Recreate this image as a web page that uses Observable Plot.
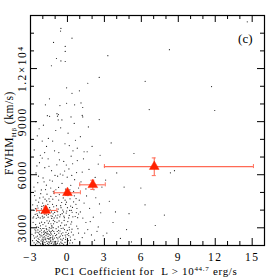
<!DOCTYPE html>
<html><head><meta charset="utf-8">
<script src="https://cdn.jsdelivr.net/npm/d3@7"></script>
<script src="https://cdn.jsdelivr.net/npm/@observablehq/plot@0.6"></script>
<style>
body{margin:0;background:#fff}
#chart svg{font-family:"Liberation Serif","DejaVu Serif",serif;overflow:visible}
</style>
</head><body><div id="chart"></div>
<script>
// individual quasars: [PC1 coefficient, FWHM_Hbeta km/s]
const quasars = [
[-2.71,2150],[-2.55,2480],[-2.42,2230],[-2.33,2710],[-2.18,2090],[-2.05,2360],[-1.94,2620],[-1.83,2180],[-1.72,2950],[-1.61,2410],[-1.52,2070],[-1.44,2790],[-1.36,2300],[-1.27,3120],[-1.18,2540],[-1.09,2210],[-1.03,3350],[-2.88,2630],[-2.64,2890],[-2.49,3050],[-2.38,2410],[-2.26,3260],[-2.12,2870],[-1.99,3180],[-1.88,2490],[-1.77,2330],[-1.66,3400],[-1.58,2670],[-1.47,3010],[-1.39,2580],[-1.31,2120],[-1.22,2860],[-1.13,3230],[-1.05,2690],[-2.79,3310],[-2.59,2060],[-2.46,2750],[-2.29,2160],[-2.16,2590],[-2.02,2120],[-1.91,2960],[-1.8,2740],[-1.69,2240],[-1.55,3260],[-1.42,2420],[-1.33,2970],[-1.2,2380],[-1.11,2800],[-2.68,2420],[-2.52,2290],[-2.35,3030],[-2.22,2480],[-2.09,2720],[-1.97,2290],[-1.85,3290],[-1.74,2560],[-1.63,2110],[-1.5,2870],[-1.4,2230],[-1.29,2650],[-1.16,3010],[-1.07,2420],[-2.61,2710],[-2.44,2530],[-2.31,2340],[-2.19,3110],[-2.07,2540],[-1.96,2050],[-1.86,2660],[-1.75,3100],[-1.64,2780],[-1.54,2380],[-1.45,2150],[-1.34,3230],[-1.24,2460],[-1.14,2080],[-2.83,2270],[-2.58,3180],[-2.4,2880],[-2.27,2620],[-2.14,2260],[-2.0,2960],[-1.9,2360],[-1.79,2040],[-1.68,2900],[-1.57,2520],[-1.46,3380],[-1.37,2710],[-1.25,2200],[-1.15,3420],[-2.75,2550],[-2.48,2140],[-2.36,2200],[-2.24,2800],[-2.1,3320],[-1.98,2450],[-1.87,2830],[-1.76,2420],[-1.65,2650],[-1.56,2200],[-1.48,2620],[-1.38,2440],[-1.26,3050],[-1.17,2330],[-2.57,2830],[-2.2,2960],[-1.93,2770],[-1.71,2700],[-1.49,2360],[-1.32,2790],
[-0.95,2240],[-0.88,2610],[-0.81,2130],[-0.74,3050],[-0.67,2470],[-0.6,2820],[-0.53,2190],[-0.46,3280],[-0.39,2560],[-0.31,2070],[-0.24,2900],[-0.16,2350],[-0.09,3170],[-0.02,2620],[0.06,2280],[0.14,3030],[0.23,2480],[0.32,2760],[0.41,2150],[-0.92,2950],[-0.85,3310],[-0.78,2380],[-0.7,2700],[-0.63,2090],[-0.56,3120],[-0.49,2660],[-0.42,2300],[-0.35,2980],[-0.27,3420],[-0.2,2180],[-0.12,2750],[-0.05,2040],[0.03,3350],[0.11,2560],[0.19,2140],[0.28,3210],[0.37,2920],[0.47,2600],[-0.97,2560],[-0.9,2080],[-0.83,2790],[-0.76,2250],[-0.68,3390],[-0.58,2530],[-0.51,2960],[-0.44,2120],[-0.33,2410],[-0.22,3150],[-0.14,2480],[-0.01,2850],[0.09,2690],[0.25,2300],[-0.87,2450],[-0.72,2860],[-0.54,2360],[-0.37,2720],[-0.18,2590],[0.0,2200],[0.16,2890],[0.34,3330],
[-2.74,3620],[-2.6,4080],[-2.47,3790],[-2.34,4450],[-2.21,3560],[-2.08,4210],[-1.95,3880],[-1.82,4620],[-1.7,3720],[-1.59,4330],[-1.47,3980],[-1.35,4780],[-1.23,3650],[-1.12,4190],[-1.04,3870],[-2.82,4300],[-2.66,4820],[-2.53,3540],[-2.39,4120],[-2.25,4690],[-2.13,3810],[-2.01,4400],[-1.89,3600],[-1.78,4060],[-1.66,4900],[-1.55,3760],[-1.43,4480],[-1.3,3900],[-1.19,4620],[-1.08,3560],[-2.7,3990],[-2.56,4570],[-2.43,3700],[-2.3,3950],[-2.17,4930],[-2.04,3660],[-1.92,4250],[-1.8,3950],[-1.69,4520],[-1.57,3600],[-1.45,4140],[-1.33,3680],[-1.21,4330],[-1.1,4960],[-2.62,3760],[-2.45,4240],[-2.28,3850],[-2.11,4070],[-1.97,4740],[-1.84,3770],[-1.73,4180],[-1.61,3870],[-1.5,4640],[-1.4,4020],[-1.28,3530],[-1.16,3790],[-2.8,3560],[-2.37,3600],[-1.99,3550],[-1.62,4040],
[-0.96,3680],[-0.89,4250],[-0.8,3910],[-0.71,4570],[-0.62,3620],[-0.52,4140],[-0.43,3800],[-0.34,4690],[-0.25,3570],[-0.15,4320],[-0.06,3950],[0.04,4820],[0.15,3700],[0.26,4230],[0.38,3880],[0.5,4470],[0.63,3640],[0.77,4090],[0.9,3780],[-0.93,4770],[-0.84,3560],[-0.75,4060],[-0.66,4880],[-0.57,3740],[-0.47,4430],[-0.38,4000],[-0.29,3660],[-0.19,4560],[-0.1,3830],[0.0,4140],[0.1,3560],[0.21,4640],[0.31,3980],[0.44,3620],[0.56,4810],[0.69,4330],[0.83,3570],[0.96,4560],[-0.78,3720],[-0.55,4250],[-0.32,3900],[-0.08,4450],[0.18,3980],[0.41,4150],[0.72,3860],
[-2.72,5300],[-2.55,6100],[-2.41,5550],[-2.27,6680],[-2.12,5140],[-1.98,5820],[-1.84,6400],[-1.71,5410],[-1.57,6900],[-1.43,5700],[-1.29,6230],[-1.15,5050],[-1.01,5960],[-0.86,6560],[-0.72,5280],[-0.58,6040],[-0.44,5510],[-0.3,6750],[-0.16,5190],[-0.02,5860],[0.12,6330],[0.27,5400],[0.42,6620],[0.58,5720],[0.74,6120],[0.9,5250],[-2.63,5080],[-2.35,5920],[-2.05,6940],[-1.78,5160],[-1.5,6480],[-1.22,5640],[-0.94,5150],[-0.65,6840],[-0.37,5980],[-0.09,6550],[0.2,5150],[0.5,5060],[0.8,6800],[-2.48,6500],[-1.9,5600],[-1.36,5250],[-0.8,5920],[-0.23,6210],[0.35,5960],
[-2.7,7400],[-2.45,8200],[-2.2,7100],[-1.95,8800],[-1.7,7600],[-1.45,9300],[-1.2,7900],[-0.95,8500],[-0.7,7250],[-0.45,9100],[-0.2,7750],[0.05,8350],[0.3,7050],[0.55,8900],[0.8,7500],[1.05,8150],[1.35,7300],[1.7,8700],[-2.58,9000],[-2.05,7900],[-1.55,8050],[-1.05,7350],[-0.55,8650],[0.15,7650],[0.65,7950],[1.2,9350],[-1.85,7250],[-0.85,9450],[0.45,7350],[-2.3,8600],
[0.6,2350],[0.75,3100],[0.9,2700],[1.05,3900],[1.2,2450],[1.35,4400],[1.5,3300],[1.65,2900],[1.8,4100],[1.95,2600],[2.1,3600],[2.3,4700],[2.5,3050],[2.7,3850],[2.9,2550],[0.7,4650],[1.0,2150],[1.25,3550],[1.55,4800],[1.85,3350],[2.2,2300],[2.6,4350],[0.85,2950],[1.4,2700],[2.4,2800],
[1.1,5600],[1.3,6900],[1.5,5200],[1.75,6300],[2.0,7600],[2.25,5850],[2.5,6600],[2.8,5300],[1.6,7300],[2.15,5150],[2.65,7100],[1.2,6150],
[3.2,2700],[3.4,4500],[3.7,3300],[4.0,6100],[4.3,2400],[4.6,5300],[5.0,3800],[5.4,7200],[5.96,5250],[3.1,5700],[3.55,7800],[4.8,2900],[3.9,3900],[6.3,4300],[5.2,2200],
[-0.53,14270],[-0.56,14120],[0.37,13720],[-1.13,13480],[-0.18,13250],[-0.18,12970],[-0.89,12570],[-0.53,12430],[-0.18,12400],[-1.3,12160],[3.28,12730],[2.58,11500],[6.31,11280],[1.65,11170],[-0.07,10910],[0.97,10740],[0.37,10600],[-1.46,10290],[-1.79,9950],[-0.61,9910],[-0.07,10040],[0.58,9950],[1.1,10060],[1.24,9800],[6.64,9680],[-1.63,9340],[-0.73,9400],[-0.81,9310],[0.29,9270],[1.24,9270],[-0.75,9100],[2.58,9120],[14.6,14640],[8.28,13070],[11.7,10980],[11.96,9630],[8.36,6110],[8.69,6230],[7.87,3720],[7.13,3130]
];

// binned means with error bars
const binX   = [-1.76, 0.0, 2.06, 7.05];
const binY   = [3980, 4980, 5430, 6460];
const binXLo = [-2.5, -1.07, 1.0, 3.0];
const binXHi = [-0.86, 1.05, 3.07, 15.1];
const binYLo = [3790, 4830, 5170, 5950];
const binYHi = [4170, 5130, 5690, 6950];

const xMajor = [-3, 0, 3, 6, 9, 12, 15];
const xMinor = [-2, -1, 1, 2, 4, 5, 7, 8, 10, 11, 13, 14];
const yMajor = [3000, 6000, 9000, 12000];
const yMinor = [4000, 5000, 7000, 8000, 10000, 11000, 13000, 14000];
const yTickText = ["3000", "6000", "9000", "1.2×10⁴"];

const bins = binX.map((x, i) => ({x, y: binY[i], xlo: binXLo[i], xhi: binXHi[i], ylo: binYLo[i], yhi: binYHi[i]}));
const pts = quasars.map(([x, y]) => ({x, y}));

const W = 279, H = 279, mL = 30, mR = 15, mT = 15, mB = 34;
const iW = W - mL - mR, iH = H - mT - mB;
const errC = "#ff6a55", triC = "#ff2200";

const chart = Plot.plot({
  width: W, height: H,
  marginLeft: mL, marginRight: mR, marginTop: mT, marginBottom: mB,
  style: {fontFamily: "'Liberation Serif','DejaVu Serif',serif", fontSize: "12px", background: "white"},
  x: {domain: [-3, 16]},
  y: {domain: [2000, 15000]},
  marks: [
    Plot.dot(pts, {x: "x", y: "y", r: 0.6, fill: "#222", stroke: "none"}),
    // error bars
    Plot.ruleY(bins, {y: "y", x1: "xlo", x2: "xhi", stroke: errC, strokeWidth: 1.1}),
    Plot.ruleX(bins, {x: "x", y1: "ylo", y2: "yhi", stroke: errC, strokeWidth: 1.1}),
    Plot.ruleX(bins, {x: "xlo", y1: "y", y2: "y", insetTop: -2, insetBottom: -2, stroke: errC}),
    Plot.ruleX(bins, {x: "xhi", y1: "y", y2: "y", insetTop: -2, insetBottom: -2, stroke: errC}),
    Plot.ruleY(bins, {y: "ylo", x1: "x", x2: "x", insetLeft: -2, insetRight: -2, stroke: errC}),
    Plot.ruleY(bins, {y: "yhi", x1: "x", x2: "x", insetLeft: -2, insetRight: -2, stroke: errC}),
    Plot.dot(bins, {x: "x", y: "y", symbol: "triangle", r: 3.6, fill: triC, stroke: triC, strokeWidth: 0.5}),
    // inward ticks
    Plot.tickX(xMajor, {x: d => d, insetTop: iH - 7, stroke: "black"}),
    Plot.tickX(xMajor, {x: d => d, insetBottom: iH - 7, stroke: "black"}),
    Plot.tickX(xMinor, {x: d => d, insetTop: iH - 4, stroke: "black"}),
    Plot.tickX(xMinor, {x: d => d, insetBottom: iH - 4, stroke: "black"}),
    Plot.tickY(yMajor, {y: d => d, insetRight: iW - 7, stroke: "black"}),
    Plot.tickY(yMajor, {y: d => d, insetLeft: iW - 7, stroke: "black"}),
    Plot.tickY(yMinor, {y: d => d, insetRight: iW - 4, stroke: "black"}),
    Plot.tickY(yMinor, {y: d => d, insetLeft: iW - 4, stroke: "black"}),
    Plot.axisX({ticks: xMajor, tickSize: 0, tickPadding: 7, label: null, fontSize: 11.5}),
    Plot.axisY({ticks: yMajor, tickSize: 0, tickPadding: 5, tickRotate: -90, label: null, fontSize: 11.5,
      tickFormat: d => yTickText[yMajor.indexOf(d)]}),
    Plot.frame({stroke: "black", strokeWidth: 1.2}),
    Plot.text(["(c)"], {frameAnchor: "top-right", dx: -12, dy: 18, fontSize: 13})
  ]
});
document.getElementById("chart").appendChild(chart);

const svg = d3.select(chart);
svg.selectAll("[aria-label='x-axis tick label'] text, [aria-label='y-axis tick label'] text").style("letter-spacing", "1.5px");

// x-axis title
const xt = svg.append("text").attr("x", 146).attr("y", 275).attr("text-anchor", "middle")
  .attr("font-size", 11).style("letter-spacing", "0.7px").attr("fill", "black");
xt.append("tspan").text("PC1 Coefficient for  L > 10");
xt.append("tspan").attr("dy", -4).attr("font-size", 7).text("44.7");
xt.append("tspan").attr("dy", 4).text(" erg/s");

// y-axis title
const yt = svg.append("text").attr("transform", "translate(13,133) rotate(-90)").attr("text-anchor", "middle")
  .attr("font-size", 11.5).style("letter-spacing", "0.5px").attr("fill", "black");
yt.append("tspan").text("FWHM");
yt.append("tspan").attr("dy", 3).attr("font-size", 7).text("Hβ");
yt.append("tspan").attr("dy", -3).text(" (km/s)");
</script>
</body></html>
